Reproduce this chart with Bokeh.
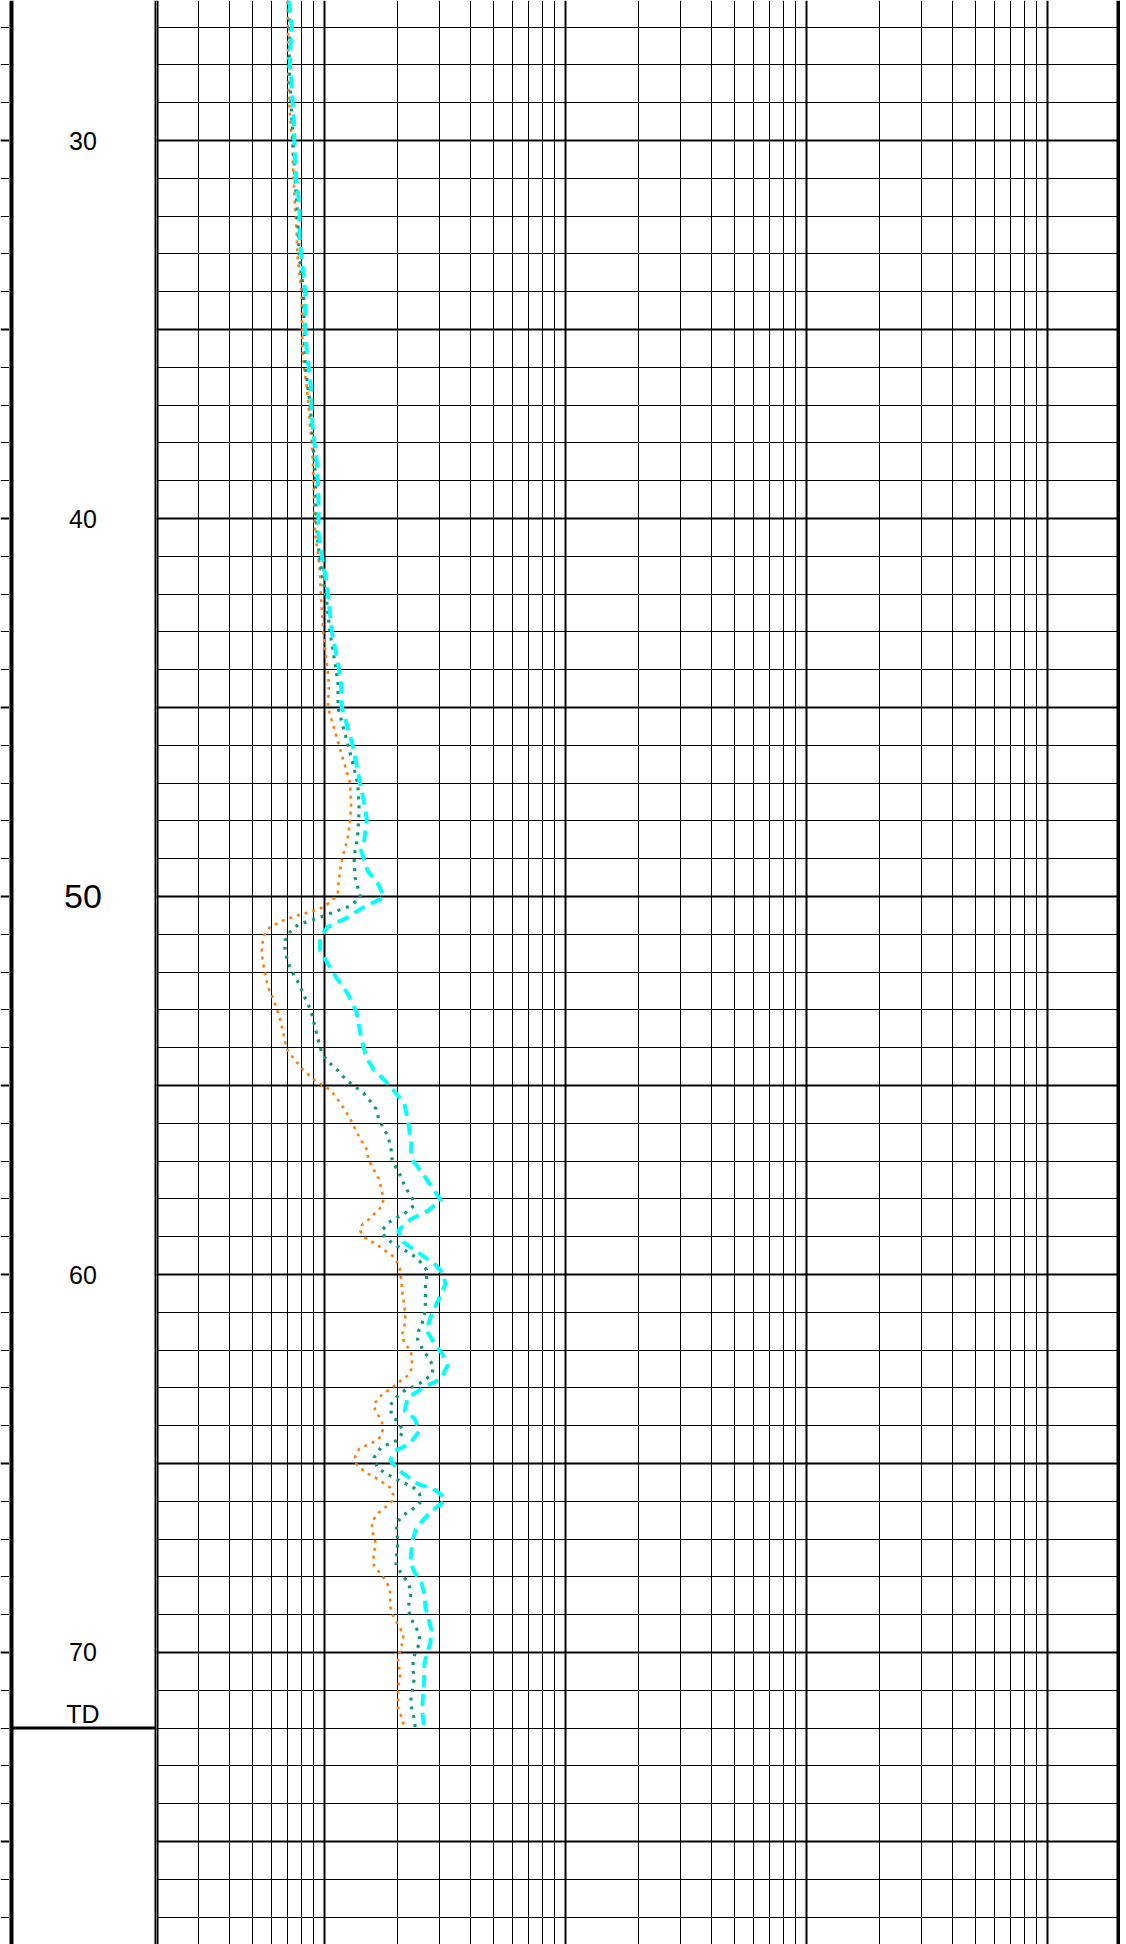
from bokeh.plotting import figure
from bokeh.layouts import row
from bokeh.models import Range1d, FixedTicker, Span, Grid, ColumnDataSource
from bokeh.embed import file_html
from bokeh.resources import INLINE
from bokeh.core.properties import value

# ---------------- data ----------------
# orange dotted curve (shallow resistivity)
depth_shallow = [
    26.3, 27.0, 28.0, 29.0, 30.0, 31.0, 31.8, 32.5, 33.0, 34.0,
    35.0, 35.6, 36.0, 36.5, 37.0, 37.6, 38.0, 38.5, 39.0, 39.5,
    40.0, 40.4, 41.0, 41.5, 42.0, 43.0, 44.0, 44.4, 45.0, 46.0,
    47.0, 47.6, 48.0, 48.5, 48.78, 49.14, 49.58, 49.93, 50.11, 50.28,
    50.41, 50.5, 50.63, 50.81, 51.03, 51.34, 51.69, 52.04, 52.4, 52.75,
    53.19, 53.63, 54.03, 54.34, 54.6, 54.87, 55.13, 55.49, 55.84, 56.37,
    56.72, 56.94, 57.14, 57.29, 57.47, 57.65, 57.82, 58.03, 58.22, 58.4,
    58.53, 58.66, 58.84, 59.01, 59.12, 59.23, 59.35, 59.47, 59.63, 59.81,
    60.16, 60.42, 60.78, 61.04, 61.26, 61.61, 61.83, 62.01, 62.36, 62.5,
    62.67, 62.8, 62.94, 63.2, 63.42, 63.6, 63.86, 64.08, 64.29, 64.44,
    64.61, 64.83, 65.01, 65.17, 65.29, 65.4, 65.51, 65.64, 65.83, 65.99,
    66.16, 66.31, 66.49, 66.68, 66.84, 67.02, 67.2, 67.35, 67.55, 67.72,
    67.9, 68.08, 68.25, 68.43, 68.61, 68.78, 68.98, 69.14, 69.31, 69.51,
    69.68, 70.03, 70.21, 70.39, 70.58, 70.74, 70.92, 71.27, 71.45, 71.62,
    71.8, 71.98,
]
res_shallow = [
    0.700, 0.703, 0.703, 0.710, 0.730, 0.741, 0.752, 0.764, 0.768, 0.800,
    0.804, 0.807, 0.819, 0.841, 0.855, 0.868, 0.882, 0.891, 0.896, 0.902,
    0.905, 0.910, 0.940, 0.955, 0.962, 0.983, 1.025, 1.039, 1.029, 1.144,
    1.271, 1.283, 1.271, 1.240, 1.203, 1.166, 1.140, 1.130, 1.069, 0.985,
    0.876, 0.766, 0.673, 0.591, 0.559, 0.546, 0.551, 0.564, 0.581, 0.614,
    0.648, 0.673, 0.694, 0.752, 0.816, 0.910, 1.059, 1.166, 1.263, 1.389,
    1.500, 1.510, 1.565, 1.616, 1.670, 1.700, 1.728, 1.745, 1.711, 1.600,
    1.530, 1.435, 1.399, 1.450, 1.555, 1.660, 1.755, 1.884, 1.976, 2.040,
    2.074, 2.090, 2.130, 2.155, 2.155, 2.090, 2.140, 2.270, 2.300, 2.284,
    2.210, 2.074, 1.945, 1.711, 1.600, 1.616, 1.720, 1.740, 1.711, 1.580,
    1.389, 1.334, 1.346, 1.435, 1.525, 1.645, 1.744, 1.866, 1.921, 1.900,
    1.778, 1.663, 1.585, 1.565, 1.580, 1.616, 1.616, 1.600, 1.585, 1.600,
    1.695, 1.778, 1.840, 1.866, 1.866, 1.866, 1.900, 1.958, 2.034, 2.114,
    2.110, 2.034, 2.010, 2.030, 2.054, 2.034, 2.014, 2.010, 2.010, 2.054,
    2.110, 2.114,
]

# green dotted curve (medium resistivity)
depth_medium = [
    26.3, 27.0, 28.0, 29.0, 30.0, 31.0, 32.0, 33.0, 34.0, 35.0,
    36.0, 37.0, 38.0, 39.0, 40.0, 40.5, 41.0, 41.5, 42.17, 43.01,
    43.98, 44.37, 45.01, 45.99, 47.0, 47.64, 47.99, 48.52, 48.78, 49.0,
    49.5, 50.02, 50.24, 50.41, 50.59, 50.74, 50.94, 51.16, 51.43, 51.65,
    51.87, 52.09, 52.31, 52.56, 53.02, 53.46, 53.9, 54.16, 54.38, 54.6,
    54.85, 55.03, 55.2, 55.41, 55.62, 55.88, 56.1, 56.35, 56.72, 56.98,
    57.34, 57.69, 57.98, 58.17, 58.35, 58.62, 58.84, 59.03, 59.21, 59.34,
    59.45, 59.67, 59.88, 60.11, 60.34, 60.78, 61.04, 61.26, 61.48, 61.7,
    61.95, 62.19, 62.41, 62.63, 62.83, 62.95, 63.07, 63.23, 63.45, 63.69,
    63.91, 64.13, 64.37, 64.57, 64.85, 65.1, 65.26, 65.38, 65.51, 65.6,
    65.79, 66.0, 66.2, 66.35, 66.55, 66.8, 67.04, 67.26, 67.48, 67.72,
    67.94, 68.17, 68.4, 68.62, 68.84, 69.08, 69.3, 69.53, 69.77, 69.99,
    70.23, 70.46, 70.7, 70.92, 71.14, 71.36, 71.6, 71.82, 72.0,
]
res_medium = [
    0.703, 0.716, 0.710, 0.723, 0.737, 0.752, 0.770, 0.781, 0.815, 0.820,
    0.830, 0.868, 0.893, 0.915, 0.920, 0.930, 0.950, 0.975, 1.016, 1.049,
    1.111, 1.133, 1.133, 1.247, 1.368, 1.385, 1.380, 1.360, 1.334, 1.321,
    1.334, 1.404, 1.283, 1.090, 0.919, 0.774, 0.716, 0.683, 0.683, 0.696,
    0.716, 0.744, 0.781, 0.810, 0.875, 0.910, 0.946, 0.974, 1.036, 1.130,
    1.223, 1.334, 1.444, 1.540, 1.631, 1.670, 1.740, 1.830, 1.884, 1.900,
    2.040, 2.155, 2.300, 2.345, 2.176, 1.840, 1.720, 1.780, 1.945, 2.110,
    2.280, 2.490, 2.640, 2.640, 2.610, 2.610, 2.590, 2.540, 2.450, 2.420,
    2.530, 2.680, 2.810, 2.790, 2.555, 2.350, 2.140, 1.995, 1.870, 1.884,
    2.010, 2.114, 2.020, 1.711, 1.595, 1.647, 1.778, 1.939, 2.110, 2.300,
    2.466, 2.512, 2.320, 2.130, 1.995, 1.976, 2.010, 1.995, 1.976, 1.976,
    2.094, 2.218, 2.284, 2.240, 2.218, 2.262, 2.371, 2.466, 2.466, 2.371,
    2.320, 2.320, 2.345, 2.320, 2.284, 2.262, 2.320, 2.351, 2.371,
]

# cyan dashed curve (deep resistivity)
depth_deep = [
    26.3, 27.0, 27.5, 28.0, 28.5, 29.0, 29.5, 30.0, 30.5, 31.0,
    31.4, 31.8, 32.5, 33.0, 33.5, 34.0, 35.0, 35.6, 36.1, 36.5,
    37.0, 37.5, 38.0, 38.5, 39.0, 39.5, 40.0, 40.4, 40.8, 41.3,
    41.7, 42.17, 43.01, 43.98, 44.37, 45.01, 45.99, 47.0, 47.64, 47.99,
    48.52, 48.78, 49.31, 49.67, 50.02, 50.32, 50.55, 50.81, 51.08, 51.43,
    51.69, 52.13, 52.57, 53.02, 53.72, 54.25, 54.6, 54.95, 55.48, 56.0,
    56.54, 56.72, 56.98, 57.6, 58.04, 58.31, 58.53, 58.84, 59.14, 59.45,
    59.76, 60.0, 60.25, 60.6, 61.04, 61.48, 61.83, 62.1, 62.41, 62.76,
    62.98, 63.25, 63.6, 63.82, 64.13, 64.48, 64.66, 64.92, 65.19, 65.54,
    65.67, 65.85, 66.0, 66.2, 66.35, 66.68, 66.99, 67.3, 67.61, 67.87,
    68.14, 68.45, 68.8, 69.07, 69.42, 69.73, 69.99, 70.3, 70.74, 71.09,
    71.53, 72.0,
]
res_deep = [
    0.710, 0.728, 0.720, 0.716, 0.728, 0.735, 0.744, 0.746, 0.752, 0.759,
    0.774, 0.784, 0.784, 0.796, 0.814, 0.827, 0.827, 0.841, 0.860, 0.874,
    0.879, 0.887, 0.905, 0.925, 0.934, 0.940, 0.940, 0.940, 0.962, 0.987,
    1.019, 1.036, 1.069, 1.144, 1.166, 1.177, 1.304, 1.399, 1.468, 1.490,
    1.454, 1.413, 1.500, 1.663, 1.761, 1.413, 1.243, 1.026, 0.955, 0.955,
    1.010, 1.111, 1.243, 1.346, 1.413, 1.482, 1.600, 1.830, 2.135, 2.218,
    2.284, 2.270, 2.320, 2.720, 3.030, 2.680, 2.280, 2.010, 2.110, 2.470,
    2.900, 3.100, 3.160, 3.000, 2.770, 2.640, 2.850, 3.070, 3.220, 3.030,
    2.590, 2.210, 2.140, 2.360, 2.470, 2.250, 1.958, 1.866, 2.034, 2.430,
    2.810, 3.070, 3.136, 2.846, 2.680, 2.400, 2.320, 2.284, 2.262, 2.351,
    2.512, 2.586, 2.611, 2.680, 2.766, 2.739, 2.661, 2.586, 2.580, 2.555,
    2.530, 2.580,
]

# depth labels and total depth
depth_label_values = [30, 40, 50, 60, 70]
depth_label_texts = ["30", "40", "50", "60", "70"]
td_depth = 72
td_text = "TD"

# grid ticks
depth_major_ticks = [30, 35, 40, 45, 50, 55, 60, 65, 70, 75]
depth_minor_ticks = [d for d in range(27, 78) if d % 5 != 0]
res_major_ticks = [1, 10, 100, 1000]
res_minor_ticks = [0.3, 0.4, 0.5, 0.6, 0.7, 0.8, 0.9,
                   2, 3, 4, 5, 6, 7, 8, 9,
                   20, 30, 40, 50, 60, 70, 80, 90,
                   200, 300, 400, 500, 600, 700, 800, 900]
res_min, res_max = 0.2, 2000

# ---------------- layout ----------------
H = 1944
y_rng = Range1d(start=77.725, end=26.296)
FONT = value("Liberation Sans")


def depth_grid():
    return Grid(dimension=1,
                ticker=FixedTicker(ticks=depth_major_ticks, minor_ticks=depth_minor_ticks),
                grid_line_color="black", grid_line_width=2, grid_line_alpha=1.0,
                minor_grid_line_color="black", minor_grid_line_width=1)


common = dict(height=H, y_range=y_rng, toolbar_location=None, output_backend="svg",
              min_border=0, outline_line_color=None, background_fill_color="white",
              border_fill_color="white")

# stub of neighbouring track on the left
stub = figure(width=9, x_range=Range1d(0, 1), x_axis_type=None, y_axis_type=None, **common)
stub.add_layout(depth_grid())

# depth track
dep = figure(width=147, x_range=Range1d(0, 1), x_axis_type=None, y_axis_type=None, **common)
dep.add_layout(Span(location=0, dimension="height", line_color="black", line_width=8))
dep.add_layout(Span(location=1, dimension="height", line_color="black", line_width=4))
dep.add_layout(Span(location=td_depth, dimension="width", line_color="black", line_width=3))
label_src = ColumnDataSource(dict(
    x=[0.5] * len(depth_label_values),
    y=depth_label_values,
    text=depth_label_texts,
    size=["34px" if t == "50" else "25px" for t in depth_label_texts],
))
dep.text(x="x", y="y", text="text", source=label_src, text_font_size="size",
         text_align="center", text_baseline="middle", text_font=FONT, text_color="black")
dep.text(x=[0.5], y=[td_depth], text=[td_text], text_font_size="25px",
         text_align="center", text_baseline="bottom", text_font=FONT, text_color="black")

# resistivity track (log)
main = figure(width=964, x_axis_type="log", x_range=Range1d(res_min, res_max),
              x_axis_location=None, y_axis_location=None, **common)
main.xgrid.ticker = FixedTicker(ticks=res_major_ticks, minor_ticks=res_minor_ticks)
main.xgrid.grid_line_color = "black"
main.xgrid.grid_line_width = 2
main.xgrid.minor_grid_line_color = "black"
main.xgrid.minor_grid_line_width = 1
main.ygrid.ticker = FixedTicker(ticks=depth_major_ticks, minor_ticks=depth_minor_ticks)
main.ygrid.grid_line_color = "black"
main.ygrid.grid_line_width = 2
main.ygrid.minor_grid_line_color = "black"
main.ygrid.minor_grid_line_width = 1
main.add_layout(Span(location=res_min, dimension="height", line_color="black", line_width=4))
main.add_layout(Span(location=res_max, dimension="height", line_color="black", line_width=8))

main.line(res_shallow, depth_shallow, line_color="#ff7f0e", line_width=2.6, line_dash="3 5")
main.line(res_medium, depth_medium, line_color="#11997a", line_width=3.2, line_dash="3 6")
main.line(res_deep, depth_deep, line_color="#00ffff", line_width=4, line_dash="12 7")

layout = row(stub, dep, main)

open("out.html", "w").write(file_html(layout, INLINE, title="Resistivity log"))
